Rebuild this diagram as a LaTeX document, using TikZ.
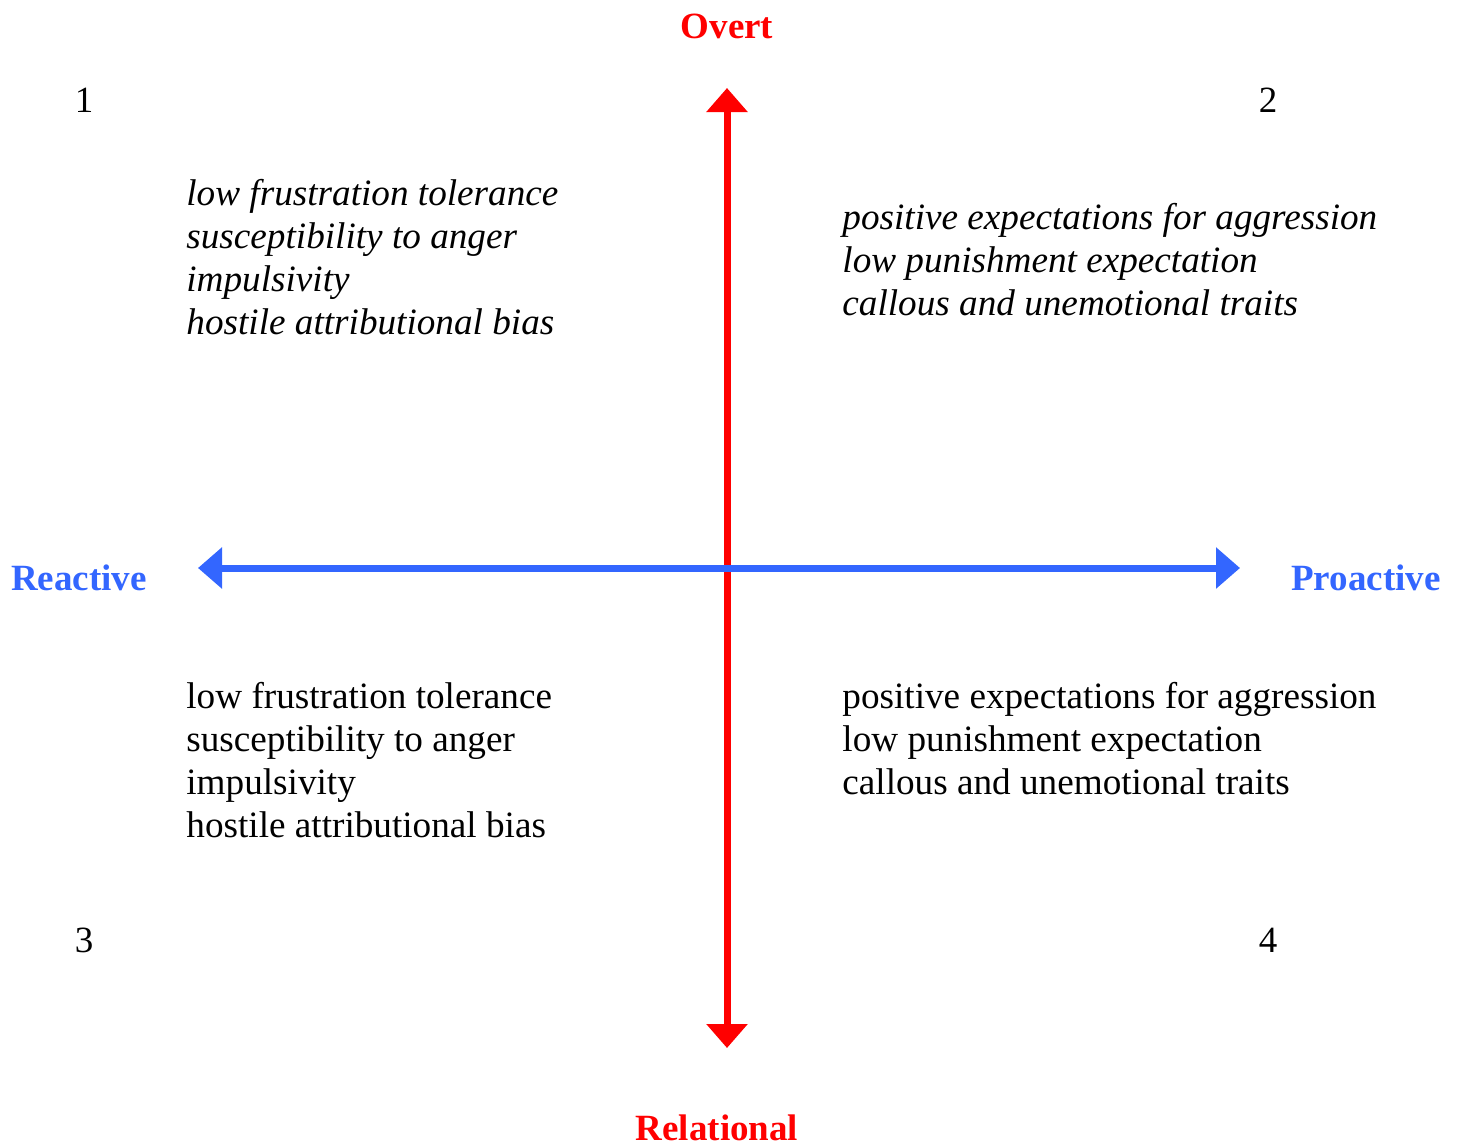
\documentclass[tikz,border=0pt]{standalone}
\usepackage{fontspec}
\setmainfont{Liberation Serif}
\usetikzlibrary{arrows.meta}
\definecolor{axred}{RGB}{255,0,0}
\definecolor{axblue}{RGB}{51,102,255}
\begin{document}
\begin{tikzpicture}[x=0.5pt,y=-0.5pt,
  axislabel/.style={font=\fontsize{18.5}{22}\selectfont\bfseries, inner sep=0pt},
  qnum/.style={font=\fontsize{18.5}{22}\selectfont, inner sep=0pt},
  traits/.style={font=\fontsize{18.6}{21.5}\selectfont, align=left, anchor=north west, inner sep=0pt},
  vaxis/.style={draw=axred, line width=3.5pt, -{Triangle[width=20pt,length=12pt]}},
  haxis/.style={draw=axblue, line width=3.5pt, {Triangle[width=20pt,length=12pt]}-{Triangle[width=20pt,length=12pt]}}]
\useasboundingbox (0,0) rectangle (1460,1146);
% axis end points
\coordinate (center) at (727,568);
\coordinate (top) at (727,88);
\coordinate (bottom) at (727,1048);
\coordinate (left) at (198,568);
\coordinate (right) at (1240,568);
\draw[vaxis] (center) -- (top);
\draw[vaxis] (center) -- (bottom);
\draw[haxis] (left) -- (right);
% axis labels
\node[axislabel, text=axred] (overt) at (727,26) {Overt};
\node[axislabel, text=axred] (relational) at (717,1128) {Relational};
\node[axislabel, text=axblue] (reactive) at (79,578) {Reactive};
\node[axislabel, text=axblue] (proactive) at (1366,578) {Proactive};
% quadrant numbers
\node[qnum] (n1) at (84,100) {1};
\node[qnum] (n2) at (1268,100) {2};
\node[qnum] (n3) at (84,940) {3};
\node[qnum] (n4) at (1268,940) {4};
% trait lists
\node[traits, font=\fontsize{18.6}{21.5}\selectfont\itshape] (q1) at (186,179) {low frustration tolerance\\susceptibility to anger\\impulsivity\\hostile attributional bias};
\node[traits, font=\fontsize{18.6}{21.5}\selectfont\itshape] (q2) at (842,203) {positive expectations for aggression\\low punishment expectation\\callous and unemotional traits};
\node[traits] (q3) at (186,682) {low frustration tolerance\\susceptibility to anger\\impulsivity\\hostile attributional bias};
\node[traits] (q4) at (842,682) {positive expectations for aggression\\low punishment expectation\\callous and unemotional traits};
\end{tikzpicture}
\end{document}
